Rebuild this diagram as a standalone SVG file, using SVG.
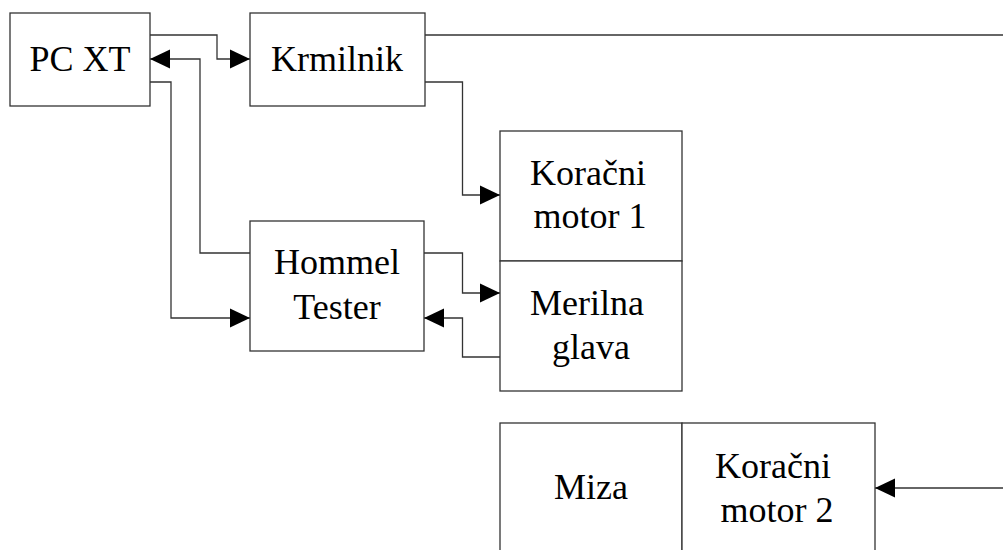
<svg xmlns="http://www.w3.org/2000/svg" width="1003" height="550" viewBox="0 0 1003 550">
<style>
.box{fill:#fff;stroke:#333;stroke-width:1.3}
.con{fill:none;stroke:#333;stroke-width:1.3}
.t{font-family:'Liberation Serif','DejaVu Serif',serif;font-size:36px;fill:#000;text-anchor:middle}
</style>
<defs>
<marker id="arr" markerUnits="userSpaceOnUse" viewBox="0 0 20 20" refX="20" refY="10" markerWidth="20" markerHeight="20" orient="auto">
<path d="M0,0.5 L20,10 L0,19.5 Z" fill="#000"/>
</marker>
</defs>
<rect width="1003" height="550" fill="#fff"/>
<g id="connectors">
<path class="con" d="M150,35 H217 V59 H250" marker-end="url(#arr)"/>
<path class="con" d="M250,253 H200 V59 H150" marker-end="url(#arr)"/>
<path class="con" d="M150,82 H171 V318 H250" marker-end="url(#arr)"/>
<path class="con" d="M425,82 H462.5 V195 H500" marker-end="url(#arr)"/>
<path class="con" d="M425,35 H1003"/>
<path class="con" d="M424,253 H462.5 V293 H500" marker-end="url(#arr)"/>
<path class="con" d="M500,357 H462.5 V318 H424" marker-end="url(#arr)"/>
<path class="con" d="M1003,488 H875" marker-end="url(#arr)"/>
</g>
<g id="pcxt">
<rect class="box" x="10" y="13" width="140" height="93"/>
<text class="t" x="80" y="71">PC XT</text>
</g>
<g id="krmilnik">
<rect class="box" x="250" y="13" width="175" height="93"/>
<text class="t" x="337" y="71">Krmilnik</text>
</g>
<g id="hommel">
<rect class="box" x="250" y="221" width="174" height="130"/>
<text class="t" x="337" y="274">Hommel</text>
<text class="t" x="337" y="319">Tester</text>
</g>
<g id="motor1">
<rect class="box" x="500" y="131" width="182" height="130"/>
<text class="t" x="588" y="185">Koračni</text>
<text class="t" x="590" y="228">motor 1</text>
</g>
<g id="merilna">
<rect class="box" x="500" y="261" width="182" height="130"/>
<text class="t" x="587" y="315">Merilna</text>
<text class="t" x="591" y="359">glava</text>
</g>
<g id="miza">
<rect class="box" x="500" y="423" width="182" height="140"/>
<text class="t" x="591" y="499">Miza</text>
</g>
<g id="motor2">
<rect class="box" x="682" y="423" width="193" height="140"/>
<text class="t" x="773" y="478">Koračni</text>
<text class="t" x="777" y="522">motor 2</text>
</g>
</svg>
